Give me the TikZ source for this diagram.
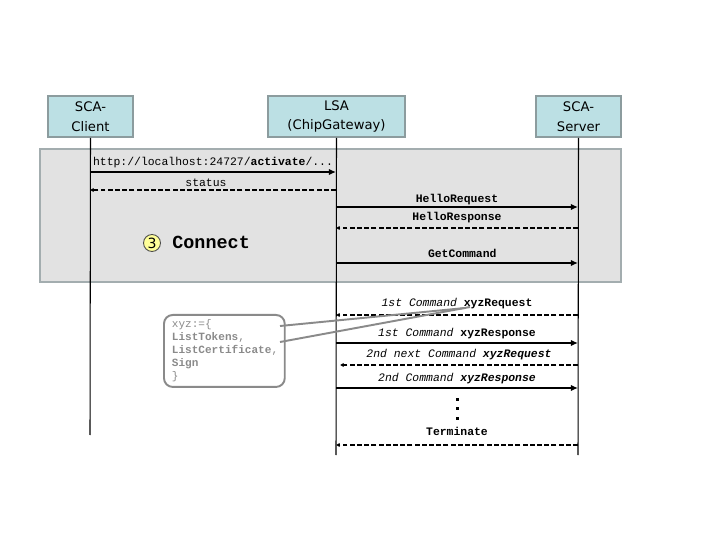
\documentclass[tikz,border=0pt]{standalone}
\usepackage{fontspec}
\setmainfont{DejaVu Sans}
\setmonofont{Liberation Mono}
\usetikzlibrary{arrows.meta}
\definecolor{actorfill}{HTML}{BCE0E4}
\definecolor{actorline}{HTML}{8C9C9E}
\definecolor{phasefill}{HTML}{E2E2E2}
\definecolor{phaseline}{HTML}{A3ADAF}
\definecolor{notegray}{HTML}{8A8A8A}
\definecolor{discfill}{HTML}{FFFF99}
\tikzset{
  actor/.style={draw=actorline, fill=actorfill, line width=1.1pt, minimum width=1.7cm,
    minimum height=0.82cm, align=center, inner sep=0pt, font=\fontsize{7.5}{11.3}\selectfont},
  lifeline/.style={line width=0.6pt},
  msg/.style={line width=1.1pt, -{Latex[length=4pt,width=3.6pt]}},
  reply/.style={line width=1.1pt, dash pattern=on 2.8pt off 1.3pt, -{Latex[length=2pt,width=2.4pt]}},
  msglabel/.style={font=\ttfamily\fontsize{6.5}{8}\selectfont, above, inner sep=1.6pt},
  numdisc/.style={circle, draw=black!70, fill=discfill, line width=0.5pt, minimum size=0.34cm,
    inner sep=0pt, font=\fontsize{8}{8}\selectfont}
}
\begin{document}
\begin{tikzpicture}[x=0.02cm, y=-0.02cm]
			%%%%% START %%%%%
			\useasboundingbox (0,0) rectangle (720,540);
			
			\draw[draw=phaseline, fill=phasefill, line width=1.2pt] (40,149) rectangle (621,282);
			
			\node[actor] (client) at (90.5,116.5) {SCA-\\Client};
			\node[actor, minimum width=2.74cm] (lsa) at (336.5,116.5) {LSA\\(ChipGateway)};
			\node[actor] (server) at (578.5,116.5) {SCA-\\Server};
			
			\coordinate (clientEnd) at (90,435);
			\coordinate (lsaEnd) at (336,455);
			\coordinate (serverEnd) at (578,455);
			\draw[lifeline] (client.south) -- (clientEnd);
			\draw[lifeline] (lsa.south) -- (lsaEnd);
			\draw[lifeline] (server.south) -- (serverEnd);
			
			\foreach \n/\y in {1/172, 2/190, 3/207, 4/228, 5/263, 6/315, 7/343, 8/365, 9/388, 10/445}{
				\coordinate (c\n) at (90,\y);
				\coordinate (l\n) at (336,\y);
				\coordinate (s\n) at (578,\y);
			}
			\coordinate (l8b) at (340,365);
			
			\draw[msg] (c1) -- node[msglabel] {http://localhost:24727/\textbf{activate}/...} (l1);
			\draw[reply] (l2) -- node[msglabel, xshift=-4pt] {status} (c2);
			\draw[msg] (l3) -- node[msglabel, yshift=-1pt] {\textbf{HelloRequest}} (s3);
			\draw[reply] (s4) -- node[msglabel, yshift=1pt] {\textbf{HelloResponse}} (l4);
			\draw[msg] (l5) -- node[msglabel, xshift=3pt, yshift=0.8pt] {\textbf{GetCommand}} (s5);
			
			\node[numdisc] (num) at (152,243) {3};
			\node[font=\ttfamily\bfseries\fontsize{10.5}{12}\selectfont, anchor=west, inner sep=0pt] (connect) at (172,242) {Connect};
			
			\draw[reply] (s6) -- node[msglabel, yshift=1.5pt] {\textit{1st Command} \textbf{xyzRequest}} (l6);
			\draw[msg] (l7) -- node[msglabel] {\textit{1st Command} \textbf{xyzResponse}} (s7);
			\draw[reply] (s8) -- node[msglabel, yshift=1pt] {\textit{2nd next Command \textbf{xyzRequest}}} (l8b);
			\draw[msg] (l9) -- node[msglabel] {\textit{2nd Command \textbf{xyzResponse}}} (s9);
			
			\foreach \y in {400,409,418}
				\fill (455.5,\y-1.5) rectangle ++(3,3);
			
			\draw[reply] (s10) -- node[msglabel, yshift=3pt] {\textbf{Terminate}} (l10);
			
			\node[draw=notegray, line width=1.1pt, rounded corners=5pt, anchor=north west,
				minimum width=2.34cm, minimum height=1.44cm, text width=2.1cm, align=left,
				inner xsep=4.5pt, inner ysep=2pt, text=notegray,
				font=\ttfamily\fontsize{6.3}{7.4}\selectfont] (note) at (163,314)
				{xyz:=\{\\\textbf{ListTokens},\\\textbf{ListCertificate},\\\textbf{Sign}\\\}};
			\coordinate (ptrA) at (280,326);
			\coordinate (ptrB) at (280,342);
			\coordinate (tipA) at (465,308);
			\coordinate (tipB) at (470,307);
			\draw[notegray, line width=1.1pt] (ptrA) -- (tipA);
			\draw[notegray, line width=1.1pt] (ptrB) -- (tipB);
			
			%%%%% END %%%%%
		\end{tikzpicture}
\end{document}
